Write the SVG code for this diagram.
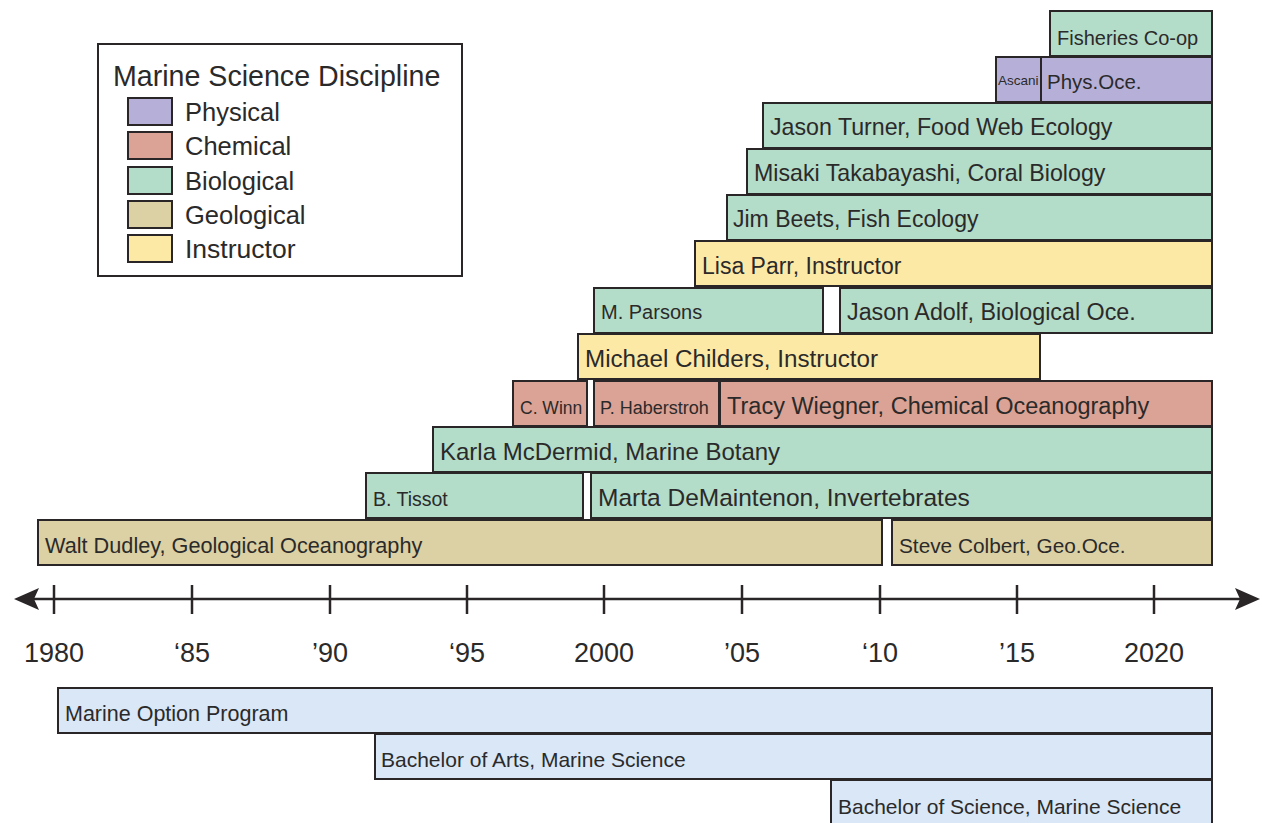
<svg xmlns="http://www.w3.org/2000/svg" width="1262" height="823" viewBox="0 0 1262 823">
<style>
text{font-family:"Liberation Sans",Arial,sans-serif;fill:#2b2a2a}
.bar{stroke:#2a2627;stroke-width:2}
.bio{fill:#b3dcc9}
.chem{fill:#dba395}
.phys{fill:#b6b0d8}
.geo{fill:#dbd1a4}
.ins{fill:#fde9a6}
.prog{fill:#d9e7f6}
.axis{stroke:#2a2627;stroke-width:2.5;fill:none}
.yr{font-size:27px;text-anchor:middle}
</style>
<rect width="1262" height="823" fill="#fff"/>
<g id="legend">
<rect x="98" y="44" width="364" height="232" fill="#fff" stroke="#2a2627" stroke-width="2"/>
<text x="113" y="86" font-size="28.6">Marine Science Discipline</text>
<rect class="bar phys" x="128" y="98" width="44" height="27"/>
<text x="185" y="121" font-size="25.5">Physical</text>
<rect class="bar chem" x="128" y="132" width="44" height="27"/>
<text x="185" y="155" font-size="25.5">Chemical</text>
<rect class="bar bio" x="128" y="167" width="44" height="27"/>
<text x="185" y="190" font-size="25.5">Biological</text>
<rect class="bar geo" x="128" y="201" width="44" height="27"/>
<text x="185" y="224" font-size="25.5">Geological</text>
<rect class="bar ins" x="128" y="235" width="44" height="27"/>
<text x="185" y="258" font-size="26.5">Instructor</text>
</g>
<g id="fisheries"><rect class="bar bio" x="1050" y="11" width="162" height="45"/><text x="1057" y="45" font-size="20">Fisheries Co-op</text></g>
<g id="ascani"><rect class="bar phys" x="996" y="57" width="45" height="45"/><text x="998" y="85" font-size="13.5">Ascani</text></g>
<g id="physoce"><rect class="bar phys" x="1041" y="57" width="171" height="45"/><text x="1047" y="89" font-size="20.5">Phys.Oce.</text></g>
<g id="turner"><rect class="bar bio" x="763" y="103" width="449" height="45"/><text x="770" y="135" font-size="23.2">Jason Turner, Food Web Ecology</text></g>
<g id="takabayashi"><rect class="bar bio" x="747" y="149" width="465" height="45"/><text x="754" y="181" font-size="23.2">Misaki Takabayashi, Coral Biology</text></g>
<g id="beets"><rect class="bar bio" x="727" y="195" width="485" height="45"/><text x="733" y="227" font-size="23">Jim Beets, Fish Ecology</text></g>
<g id="parr"><rect class="bar ins" x="695" y="241" width="517" height="45"/><text x="702" y="274" font-size="23">Lisa Parr, Instructor</text></g>
<g id="parsons"><rect class="bar bio" x="594" y="288" width="229" height="45"/><text x="601" y="319" font-size="20">M. Parsons</text></g>
<g id="adolf"><rect class="bar bio" x="840" y="288" width="372" height="45"/><text x="847" y="320" font-size="23.3">Jason Adolf, Biological Oce.</text></g>
<g id="childers"><rect class="bar ins" x="578" y="334" width="462" height="45"/><text x="585" y="367" font-size="24.2">Michael Childers, Instructor</text></g>
<g id="winn"><rect class="bar chem" x="513" y="381" width="74" height="45"/><text x="520" y="414" font-size="17.5">C. Winn</text></g>
<g id="haberstroh"><rect class="bar chem" x="594" y="381" width="125" height="45"/><text x="600" y="414" font-size="18">P. Haberstroh</text></g>
<g id="wiegner"><rect class="bar chem" x="720" y="381" width="492" height="45"/><text x="727" y="414" font-size="23.5">Tracy Wiegner, Chemical Oceanography</text></g>
<g id="mcdermid"><rect class="bar bio" x="433" y="427" width="779" height="45"/><text x="440" y="460" font-size="24">Karla McDermid, Marine Botany</text></g>
<g id="tissot"><rect class="bar bio" x="366" y="473" width="217" height="45"/><text x="373" y="506" font-size="19.5">B. Tissot</text></g>
<g id="demaintenon"><rect class="bar bio" x="591" y="473" width="621" height="45"/><text x="598" y="506" font-size="24.5">Marta DeMaintenon, Invertebrates</text></g>
<g id="dudley"><rect class="bar geo" x="38" y="520" width="844" height="45"/><text x="45" y="553" font-size="21.7">Walt Dudley, Geological Oceanography</text></g>
<g id="colbert"><rect class="bar geo" x="892" y="520" width="320" height="45"/><text x="899" y="553" font-size="20.8">Steve Colbert, Geo.Oce.</text></g>
<g id="timeline">
<line class="axis" x1="24" y1="599" x2="1248" y2="599"/>
<path d="M14 599 L39 588 L34 599 L39 610 Z" fill="#2a2627"/>
<path d="M1260 599 L1235 588 L1240 599 L1235 610 Z" fill="#2a2627"/>
<g class="axis">
<line x1="54" y1="585" x2="54" y2="614"/>
<line x1="192" y1="585" x2="192" y2="614"/>
<line x1="330" y1="585" x2="330" y2="614"/>
<line x1="467" y1="585" x2="467" y2="614"/>
<line x1="604" y1="585" x2="604" y2="614"/>
<line x1="742" y1="585" x2="742" y2="614"/>
<line x1="880" y1="585" x2="880" y2="614"/>
<line x1="1017" y1="585" x2="1017" y2="614"/>
<line x1="1154" y1="585" x2="1154" y2="614"/>
</g>
<text class="yr" x="54" y="662">1980</text>
<text class="yr" x="192" y="662">‘85</text>
<text class="yr" x="330" y="662">’90</text>
<text class="yr" x="467" y="662">‘95</text>
<text class="yr" x="604" y="662">2000</text>
<text class="yr" x="742" y="662">’05</text>
<text class="yr" x="880" y="662">‘10</text>
<text class="yr" x="1017" y="662">’15</text>
<text class="yr" x="1154" y="662">2020</text>
</g>
<g id="marine-option"><rect class="bar prog" x="58" y="688" width="1154" height="45"/><text x="65" y="721" font-size="21.5">Marine Option Program</text></g>
<g id="ba"><rect class="bar prog" x="375" y="734" width="837" height="45"/><text x="381" y="767" font-size="21">Bachelor of Arts, Marine Science</text></g>
<g id="bs"><rect class="bar prog" x="831" y="780" width="381" height="48"/><text x="838" y="814" font-size="21">Bachelor of Science, Marine Science</text></g>
</svg>
